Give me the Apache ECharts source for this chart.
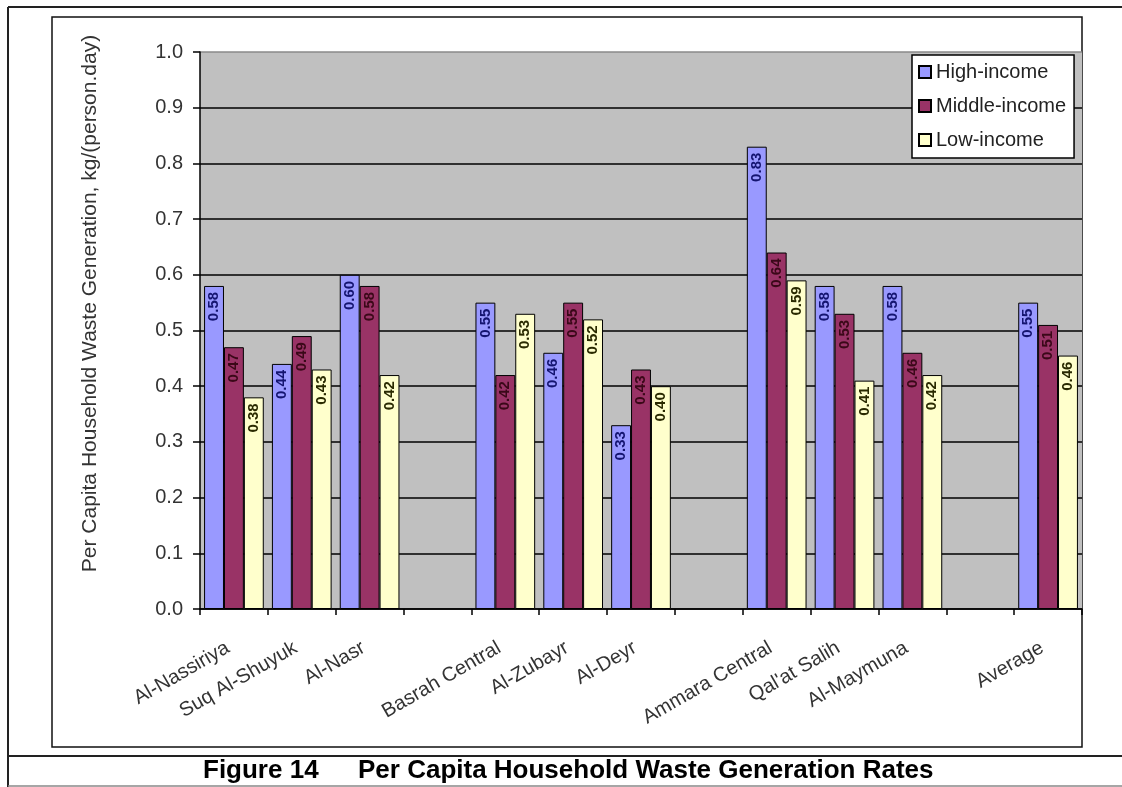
<!DOCTYPE html>
<html>
<head>
<meta charset="utf-8">
<script src="https://cdn.jsdelivr.net/npm/echarts@6/dist/echarts.min.js"></script>
<style>
html,body{margin:0;padding:0;background:#fff;}
#chart{width:1122px;height:787px;}
</style>
</head>
<body>
<div id="chart"></div>
<script>
const categories = ['Al-Nassiriya', 'Suq Al-Shuyuk', 'Al-Nasr', '', 'Basrah Central', 'Al-Zubayr', 'Al-Deyr', '', 'Ammara Central', "Qal'at Salih", 'Al-Maymuna', '', 'Average'];
const seriesNames = ['High-income', 'Middle-income', 'Low-income'];
const highIncome = [0.58, 0.44, 0.60, null, 0.55, 0.46, 0.33, null, 0.83, 0.58, 0.58, null, 0.55];
const middleIncome = [0.47, 0.49, 0.58, null, 0.42, 0.55, 0.43, null, 0.64, 0.53, 0.46, null, 0.51];
const lowIncome = [0.38, 0.43, 0.42, null, 0.53, 0.52, 0.40, null, 0.59, 0.41, 0.42, null, 0.455];
const yMin = 0, yMax = 1.0, yStep = 0.1;
const yAxisTitle = 'Per Capita Household Waste Generation, kg/(person.day)';
const figureNo = 'Figure 14';
const figureTitle = 'Per Capita Household Waste Generation Rates';

const FONT = '"Liberation Sans", Arial, sans-serif';
const barColors = ['#9999ff', '#993366', '#ffffcc'];
const labelColors = ['#141470', '#3a0818', '#2a2a00'];
const values = [highIncome, middleIncome, lowIncome];

const chart = echarts.init(document.getElementById('chart'), null, {renderer: 'canvas'});

const series = seriesNames.map((name, i) => ({
  name: name,
  type: 'bar',
  data: values[i],
  barGap: '0%',
  barCategoryGap: '12%',
  itemStyle: {color: barColors[i], borderColor: '#000', borderWidth: 1},
  label: {
    show: true,
    position: 'insideTop',
    rotate: 90,
    align: 'right',
    verticalAlign: 'middle',
    distance: 6,
    fontFamily: FONT,
    fontSize: 15,
    fontWeight: 'bold',
    color: labelColors[i],
    formatter: p => (p.value == null ? '' : Number(p.value).toFixed(2))
  },
  emphasis: {disabled: true}
}));

const gridColors = [];
for (let k = 0; k <= Math.round((yMax - yMin) / yStep); k++) gridColors.push('#000');
gridColors[gridColors.length - 1] = '#8a8a8a';

chart.setOption({
  animation: false,
  backgroundColor: '#fff',
  textStyle: {fontFamily: FONT},
  grid: {left: 200, top: 52, right: 40, bottom: 178, show: true, backgroundColor: '#c0c0c0', borderWidth: 0},
  legend: {
    orient: 'vertical',
    left: 912, top: 55,
    padding: [7, 8, 8, 6],
    itemGap: 14,
    itemWidth: 12, itemHeight: 12,
    backgroundColor: '#fff',
    borderColor: '#000', borderWidth: 1.5,
    borderRadius: 0,
    icon: 'rect',
    textStyle: {fontFamily: FONT, fontSize: 20, color: '#222'},
    data: seriesNames
  },
  xAxis: {
    type: 'category',
    data: categories,
    axisLine: {lineStyle: {color: '#000', width: 1.5}},
    axisTick: {show: true, alignWithLabel: false, length: 6, lineStyle: {color: '#000', width: 1.5}},
    axisLabel: {
      interval: 0, rotate: 30, margin: 34,
      fontFamily: FONT, fontSize: 20, color: '#333',
      padding: [0, 7, 0, 0]
    },
    splitLine: {show: false}
  },
  yAxis: {
    type: 'value',
    min: yMin, max: yMax, interval: yStep,
    name: yAxisTitle,
    nameLocation: 'middle',
    nameGap: 99,
    nameTextStyle: {fontFamily: FONT, fontSize: 21, color: '#333', padding: [0, 0, 0, 54]},
    axisLine: {show: true, lineStyle: {color: '#000', width: 1.5}},
    axisTick: {show: true, length: 7, lineStyle: {color: '#000', width: 1.5}},
    axisLabel: {margin: 17, fontFamily: FONT, fontSize: 20, color: '#333', formatter: v => v.toFixed(1)},
    splitLine: {show: true, lineStyle: {color: gridColors, width: 1.5}}
  },
  series: series,
  graphic: [
    {type: 'line', shape: {x1: 8, y1: 7, x2: 1122, y2: 7}, style: {stroke: '#222', lineWidth: 2}, silent: true},
    {type: 'line', shape: {x1: 8, y1: 7, x2: 8, y2: 787}, style: {stroke: '#222', lineWidth: 2}, silent: true},
    {type: 'line', shape: {x1: 8, y1: 756, x2: 1122, y2: 756}, style: {stroke: '#222', lineWidth: 2}, silent: true},
    {type: 'line', shape: {x1: 8, y1: 786, x2: 1122, y2: 786}, style: {stroke: '#888', lineWidth: 1.5}, silent: true},
    {type: 'rect', shape: {x: 52, y: 17, width: 1030, height: 730}, style: {fill: 'none', stroke: '#111', lineWidth: 1.5}, silent: true, z: -1},
    {type: 'text', left: 203, top: 758, style: {text: figureNo, font: 'bold 26px "Liberation Sans", Arial', fill: '#000'}, silent: true},
    {type: 'text', left: 358, top: 758, style: {text: figureTitle, font: 'bold 26px "Liberation Sans", Arial', fill: '#000'}, silent: true}
  ]
});
</script>
</body>
</html>
